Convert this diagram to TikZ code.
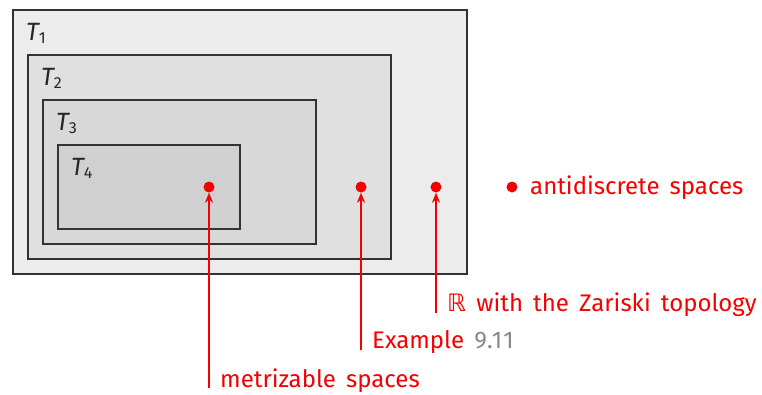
\documentclass[tikz,border=0pt]{standalone}
\usepackage{fontspec}
\setmainfont[WordSpace=1.6]{Fira Sans}
\newfontfamily\symfont{DejaVu Sans}
\usetikzlibrary{arrows.meta}
\definecolor{frame}{HTML}{333333}
\definecolor{fillA}{HTML}{ECECEC}
\definecolor{fillB}{HTML}{E0E0E0}
\definecolor{fillC}{HTML}{D8D8D8}
\definecolor{fillD}{HTML}{D0D0D0}
\definecolor{mark}{HTML}{F40000}
\definecolor{refgray}{HTML}{888888}
\newcommand{\axname}[1]{{\itshape T}\raisebox{-0.15em}{\fontsize{16}{18}\selectfont #1}}
\begin{document}
\begin{tikzpicture}[x=1pt,y=-1pt,
  region/.style={draw=frame,line width=2pt},
  axlabel/.style={anchor=base west,inner sep=0pt,font=\fontsize{25}{28}\selectfont,text=black!85},
  pt/.style={circle,fill=mark,inner sep=0pt,minimum size=11pt},
  pointer/.style={draw=mark,line width=2.2pt,-{Stealth[length=10pt,width=8pt]}},
  caption/.style={anchor=base west,inner sep=0pt,text=mark,font=\fontsize{24}{28}\selectfont}]
\useasboundingbox (0,0) rectangle (762,394);
% nested classes of spaces
\draw[region,fill=fillA] (13,10) rectangle (467,274);
\draw[region,fill=fillB] (28,55) rectangle (391,259);
\draw[region,fill=fillC] (43,100) rectangle (316,244);
\draw[region,fill=fillD] (58,145) rectangle (240,229);
\node[axlabel] (t1) at (26,40) {\axname{1}};
\node[axlabel] (t2) at (41,85) {\axname{2}};
\node[axlabel] (t3) at (56,130) {\axname{3}};
\node[axlabel] (t4) at (71,175) {\axname{4}};
% sample spaces
\node[pt] (p1) at (209,187) {};
\node[pt] (p2) at (361,187) {};
\node[pt] (p3) at (436,187) {};
\node[pt] (p4) at (512,187) {};
\node[caption] (l4) at (530,194) {antidiscrete spaces};
% pointers with their captions
\coordinate (e1) at (209,388);
\coordinate (e2) at (361,350);
\coordinate (e3) at (436,313);
\node[caption] (l1) at (220,387) {metrizable spaces};
\node[caption] (l2) at (372,348) {Example \textcolor{refgray}{\addfontfeature{LetterSpace=6}9.11}};
\node[caption] (l3) at (447,311) {{\symfont ℝ} with the Zariski topology};
\draw[pointer] (e1) -- (p1);
\draw[pointer] (e2) -- (p2);
\draw[pointer] (e3) -- (p3);
\end{tikzpicture}
\end{document}
